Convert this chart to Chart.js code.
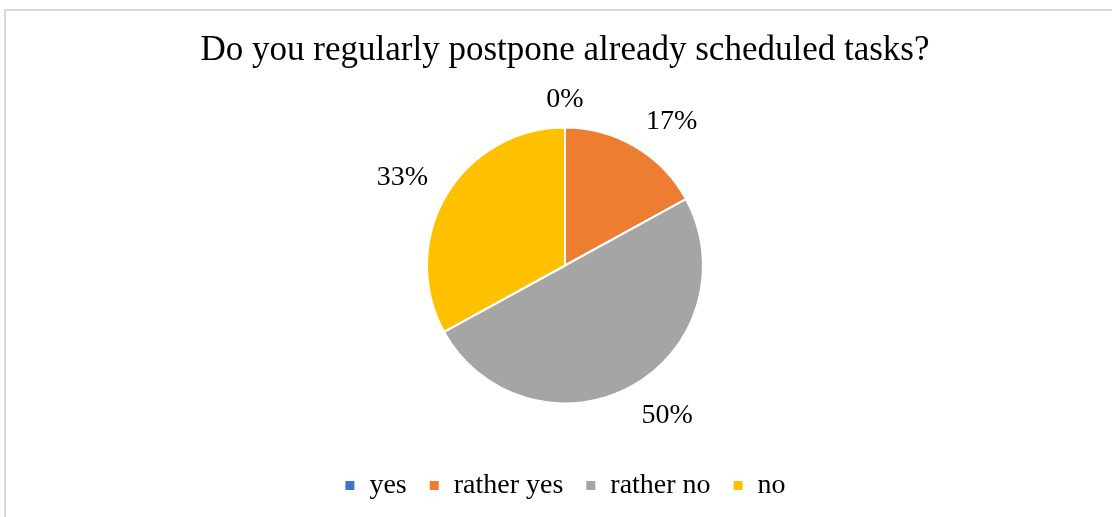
<!DOCTYPE html>
<html>
<head>
<meta charset="utf-8">
<script src="https://cdn.jsdelivr.net/npm/chart.js@4.4.1/dist/chart.umd.min.js"></script>
<style>
    html, body { margin: 0; padding: 0; overflow: hidden; background: #fff; }
    .card {
        position: absolute;
        left: 4px;
        top: 9px;
        border: 2px solid #d9d9d9;
        width: 1118px;
        height: 517px;
    }
    canvas { display: block; }
</style>
</head>
<body>
<div class="card">
    <canvas id="myChart" width="1118" height="517"></canvas>
</div>
<script>
const chartTitle = 'Do you regularly postpone already scheduled tasks?';
const categories = ['yes', 'rather yes', 'rather no', 'no'];
const shares = [0, 17, 50, 33];

const sliceColors = ['#4472c4', '#ed7d31', '#a5a5a5', '#ffc000'];
const serif = "'Liberation Serif', 'Times New Roman', serif";

// percentage labels just outside each slice, pushed off the corner nearest the pie
const outsideLabels = {
    id: 'outsideLabels',
    afterDatasetsDraw(chart) {
        const ctx = chart.ctx;
        const meta = chart.getDatasetMeta(0);
        const size = 28;
        ctx.save();
        ctx.font = size + 'px ' + serif;
        ctx.fillStyle = '#000';
        ctx.textAlign = 'center';
        ctx.textBaseline = 'alphabetic';
        meta.data.forEach((arc, i) => {
            const p = arc.getProps(['x', 'y', 'startAngle', 'endAngle', 'outerRadius'], true);
            const mid = (p.startAngle + p.endAngle) / 2;
            const cos = Math.cos(mid), sin = Math.sin(mid);
            const d = p.outerRadius + 21;
            const ax = p.x + d * cos;
            const ay = p.y + d * sin;
            const text = shares[i] + '%';
            const w = ctx.measureText(text).width;
            const h = size * 0.66;
            const clamp = v => Math.max(-1, Math.min(1, v));
            const cx = ax + (w / 2) * clamp(cos * 3);
            const cy = ay + (h / 2) * clamp(sin * 3);
            ctx.fillText(text, cx, cy + h / 2);
        });
        ctx.restore();
    }
};

const config = {
    type: 'pie',
    data: {
        labels: categories,
        datasets: [{
            data: shares,
            backgroundColor: sliceColors,
            borderColor: '#ffffff',
            borderWidth: 2,
        }]
    },
    options: {
        responsive: false,
        animation: false,
        radius: 138,
        layout: { padding: { top: 0, bottom: 18.5, left: 0, right: 0 } },
        plugins: {
            title: {
                display: true,
                text: chartTitle,
                color: '#000',
                font: { family: serif, size: 35, weight: 'normal', lineHeight: 1.2 },
                padding: { top: 19, bottom: 9.5 }
            },
            legend: {
                position: 'bottom',
                labels: {
                    color: '#000',
                    font: { family: serif, size: 28 },
                    boxWidth: 11,
                    boxHeight: 11,
                    padding: 22
                }
            },
            tooltip: { enabled: false }
        }
    },
    plugins: [outsideLabels]
};

const chart = new Chart(document.getElementById('myChart').getContext('2d'), config);
</script>
</body>
</html>
